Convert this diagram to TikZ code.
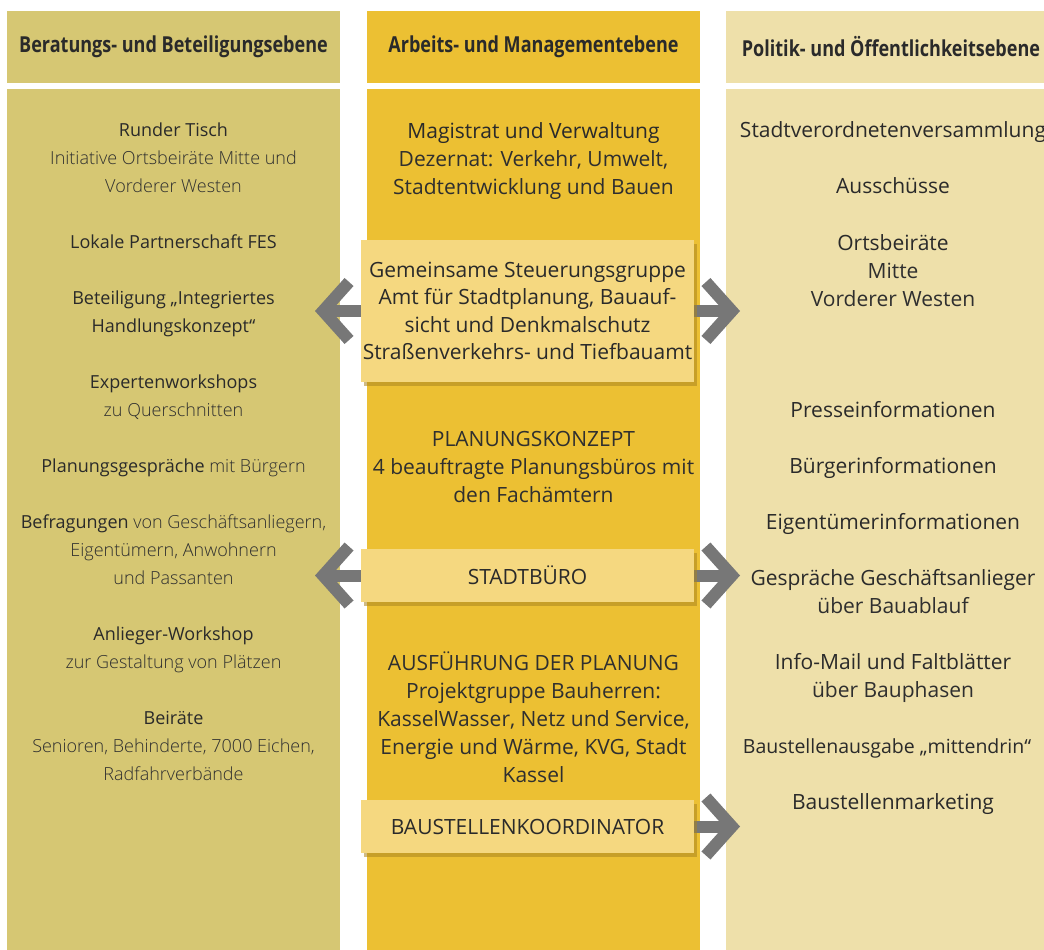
\documentclass[tikz,border=0pt]{standalone}
\usepackage{fontspec}
\setmainfont{Open Sans}
\IfFontExistsTF{Open Sans Light}{\newfontfamily\lightfont{Open Sans Light}}{\newfontfamily\lightfont{Open Sans}}
\newfontfamily\headfont{Open Sans}[FakeStretch=0.82]
\usetikzlibrary{arrows.meta,shadows}
\definecolor{colA}{HTML}{D6C773}
\definecolor{colB}{HTML}{ECC033}
\definecolor{colC}{HTML}{EEE0AA}
\definecolor{boxfill}{HTML}{F5D880}
\definecolor{shadowbrown}{HTML}{A98420}
\definecolor{arrowgray}{HTML}{777777}
\definecolor{ink}{HTML}{2A2A2A}
\definecolor{inklight}{HTML}{2F2F2F}
\newcommand\lite[1]{{\lightfont\color{inklight}#1}}
\newcommand\soft[1]{{\color{inklight}#1}}
\tikzset{
  txt/.style={align=center, anchor=north, inner sep=0pt, text=ink,
    font=\fontsize{18}{28}\selectfont, execute at begin node=\strut},
  bigtxt/.style={txt, font=\fontsize{21}{28}\selectfont},
  head/.style={inner sep=0pt, text=ink, font=\headfont\bfseries\fontsize{22}{26}\selectfont},
  panel/.style={fill=boxfill, align=center, text=ink, inner sep=0pt,
    minimum width=333pt, font=\fontsize{21}{27.5}\selectfont,
    drop shadow={shadow xshift=3pt, shadow yshift=-4pt, fill=shadowbrown, opacity=.55}},
  flow/.style={draw=arrowgray, line width=12pt,
    -{Straight Barb[length=26pt, width=58pt, sharp]}}
}
\begin{document}
\begin{tikzpicture}[x=1pt,y=-1pt]
\useasboundingbox (0,0) rectangle (1044,950);
\clip (0,0) rectangle (1044,950);
% columns
\fill[colA] (7,11) rectangle (340,83);
\fill[colA] (7,89) rectangle (340,950);
\fill[colB] (367,11) rectangle (700,83);
\fill[colB] (367,89) rectangle (700,950);
\fill[colC] (726,11) rectangle (1060,83);
\fill[colC] (726,89) rectangle (1060,950);
\node[head] (hA) at (173.5,47) {Beratungs- und Beteiligungsebene};
\node[head] (hB) at (533.5,47) {Arbeits- und Managementebene};
\node[head] (hC) at (891,47) {Politik- und Öffentlichkeitsebene};
% left column
\node[txt] (tisch) at (173.5,122.9) {Runder Tisch\\ \lite{Initiative Ortsbeiräte Mitte und}\\ \lite{Vorderer Westen}};
\node[txt] (fes) at (173.5,228.4) {Lokale Partnerschaft FES};
\node[txt] (hkonz) at (173.5,290.9) {Beteiligung „Integriertes\\ Handlungskonzept“};
\node[txt] (expert) at (173.5,374.9) {Expertenworkshops\\ \lite{zu Querschnitten}};
\node[txt] (gespr) at (173.5,452.4) {Planungsgespräche \lite{mit Bürgern}};
\node[txt] (befrag) at (173.5,514.9) {Befragungen \lite{von Geschäftsanliegern,}\\ \lite{Eigentümern, Anwohnern}\\ \lite{und Passanten}};
\node[txt] (anlieg) at (173.5,626.9) {Anlieger-Workshop\\ \lite{zur Gestaltung von Plätzen}};
\node[txt] (beirat) at (173.5,711.4) {Beiräte\\ \lite{Senioren, Behinderte, 7000 Eichen,}\\ \lite{Radfahrverbände}};
% middle column
\node[bigtxt] (magis) at (533.5,122.4) {Magistrat und Verwaltung\\ \soft{Dezernat: Verkehr, Umwelt,}\\ \soft{Stadtentwicklung und Bauen}};
\node[bigtxt] (konzept) at (533.5,431.4) {\soft{PLANUNGSKONZEPT}\\ \soft{4 beauftragte Planungsbüros mit}\\ \soft{den Fachämtern}};
\node[bigtxt] (ausf) at (533.5,651.4) {\soft{AUSFÜHRUNG DER PLANUNG}\\ \soft{Projektgruppe Bauherren:}\\ \soft{KasselWasser, Netz und Service,}\\ \soft{Energie und Wärme, KVG, Stadt}\\ \soft{Kassel}};
% right column
\node[bigtxt] (svv) at (893,117.4) {Stadtverordnetenversammlung};
\node[bigtxt] (ortsb) at (893,234.4) {Ortsbeiräte\\ \soft{Mitte}\\ \soft{Vorderer Westen}};
\foreach \n/\yy/\t in {aussch/173.4/Ausschüsse, presse/397.4/Presseinformationen,
    buerger/453.4/Bürgerinformationen, eigent/509.4/Eigentümerinformationen,
    marketing/789.4/Baustellenmarketing}
  \node[bigtxt] (\n) at (893,\yy) {\t};
\node[bigtxt, font=\fontsize{19.5}{28}\selectfont] (mitten) at (887,733.4) {Baustellenausgabe „mittendrin“};
\node[bigtxt] (gesch) at (893,569.4) {Gespräche Geschäftsanlieger\\ \soft{über Bauablauf}};
\node[bigtxt] (infom) at (893,653.4) {Info-Mail und Faltblätter\\ \soft{über Bauphasen}};
% arrows
\coordinate (steuerL) at (315,311);
\coordinate (steuerR) at (740,311);
\coordinate (bueroL) at (315,575.5);
\coordinate (bueroR) at (740,575.5);
\coordinate (koordR) at (740,826.5);
\draw[flow] (361,311) -- (steuerL);
\draw[flow] (694,311) -- (steuerR);
\draw[flow] (361,575.5) -- (bueroL);
\draw[flow] (694,575.5) -- (bueroR);
\draw[flow] (694,826.5) -- (koordR);
% boxes on top
\node[panel, minimum height=142pt] (steuer) at (527.5,311) {Gemeinsame Steuerungsgruppe\\ Amt für Stadtplanung, Bauauf-\\ sicht und Denkmalschutz\\ Straßenverkehrs- und Tiefbauamt};
\node[panel, minimum height=53pt] (buero) at (527.5,575.5) {STADTBÜRO};
\node[panel, minimum height=53pt] (koord) at (527.5,826.5) {BAUSTELLENKOORDINATOR};
\end{tikzpicture}
\end{document}
